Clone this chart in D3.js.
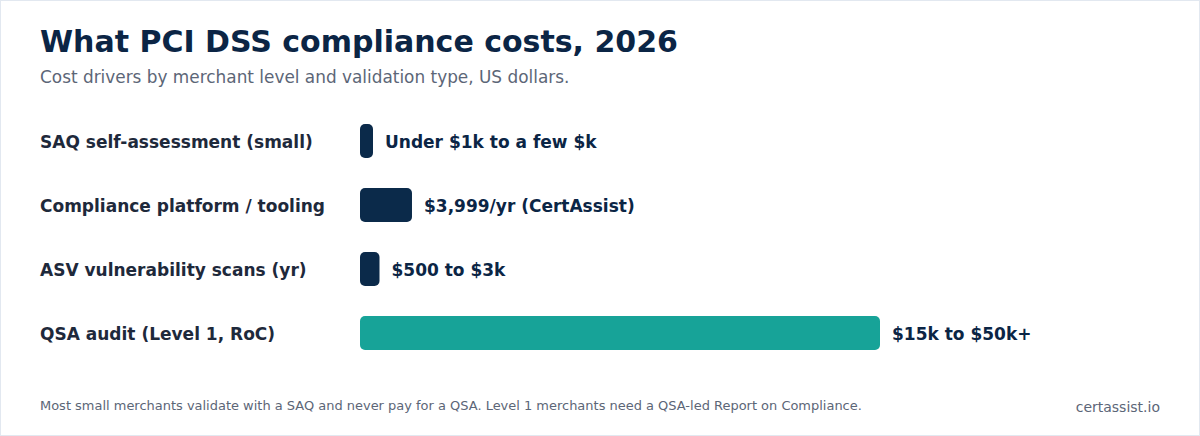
<!DOCTYPE html>
<html><head><meta charset="utf-8">
<script src="https://cdn.jsdelivr.net/npm/d3@7"></script>
<style>html,body{margin:0;padding:0;background:#fff;}svg{display:block;font-family:"DejaVu Sans",sans-serif;}</style>
</head><body>
<script>
const categories = ["SAQ self-assessment (small)", "Compliance platform / tooling", "ASV vulnerability scans (yr)", "QSA audit (Level 1, RoC)"];
const values = [1000, 3999, 1500, 40000];
const valueLabels = ["Under $1k to a few $k", "$3,999/yr (CertAssist)", "$500 to $3k", "$15k to $50k+"];
const highlight = [false, false, false, true];

const W = 1200, H = 436;
const svg = d3.select("body").append("svg").attr("width", W).attr("height", H);
svg.append("rect").attr("x", 0.5).attr("y", 0.5).attr("width", W - 1).attr("height", H - 1)
  .attr("fill", "#fff").attr("stroke", "#e2e8f0");

svg.append("text").attr("x", 40).attr("y", 52).text("What PCI DSS compliance costs, 2026")
  .attr("font-size", 30).attr("font-weight", "bold").attr("fill", "#0b2545");
svg.append("text").attr("x", 40).attr("y", 83).text("Cost drivers by merchant level and validation type, US dollars.")
  .attr("font-size", 16.9).attr("fill", "#5c6677");

const x = d3.scaleLinear().domain([0, 40000]).range([360, 880]);
const y = d3.scaleBand().domain(categories).range([109, 365]).paddingInner(0.47).paddingOuter(0.235);

const rows = svg.append("g").selectAll("g").data(categories).join("g");
rows.append("text").attr("x", 40).attr("y", d => y(d) + y.bandwidth() / 2 + 1).attr("dy", "0.36em")
  .text(d => d).attr("font-size", 17).attr("font-weight", "bold").attr("fill", "#1e293b");
rows.append("rect").attr("x", x(0)).attr("y", d => y(d))
  .attr("width", (d, i) => x(values[i]) - x(0)).attr("height", y.bandwidth())
  .attr("rx", 5).attr("fill", (d, i) => highlight[i] ? "#17a398" : "#0b2a4a");
rows.append("text").attr("x", (d, i) => x(values[i]) + 12).attr("y", d => y(d) + y.bandwidth() / 2 + 1).attr("dy", "0.36em")
  .text((d, i) => valueLabels[i]).attr("font-size", 17).attr("font-weight", "bold").attr("fill", "#0b2545");

svg.append("text").attr("x", 40).attr("y", 410).text("Most small merchants validate with a SAQ and never pay for a QSA. Level 1 merchants need a QSA-led Report on Compliance.")
  .attr("font-size", 12.97).attr("fill", "#5c6677");
svg.append("text").attr("x", 1160).attr("y", 412).attr("text-anchor", "end").text("certassist.io")
  .attr("font-size", 14).attr("fill", "#5c6677");
</script>
</body></html>
